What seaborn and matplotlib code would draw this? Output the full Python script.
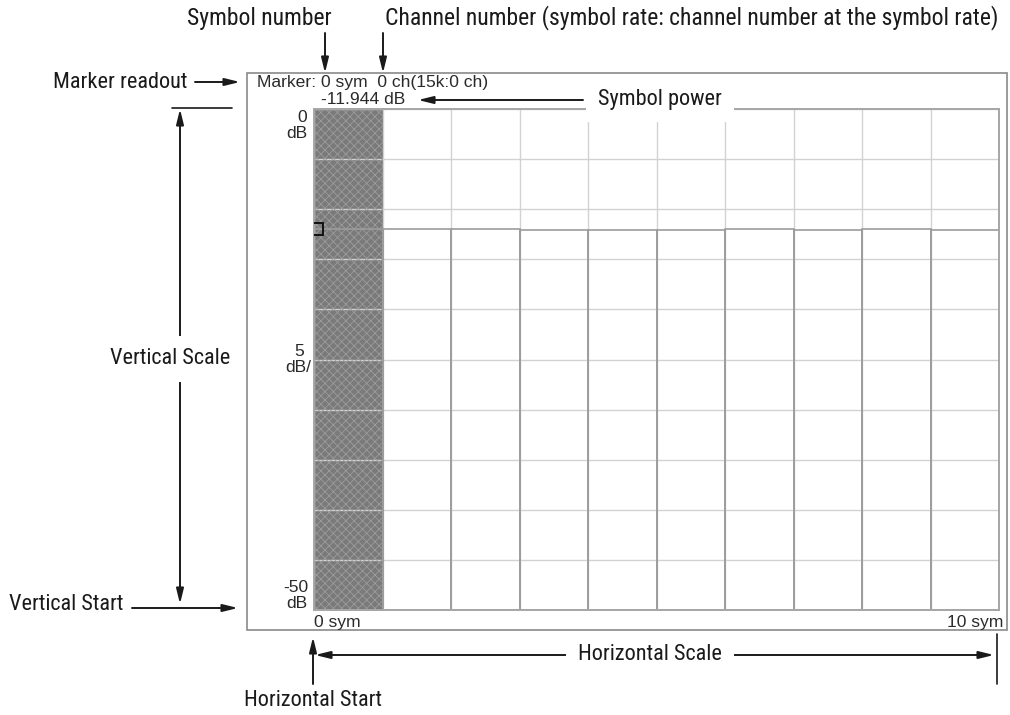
import numpy as np
import pandas as pd
import matplotlib
matplotlib.use("Agg")
import matplotlib.pyplot as plt
from matplotlib import font_manager as fm
from matplotlib.patches import Rectangle, FancyArrowPatch
from matplotlib.lines import Line2D
import seaborn as sns

# Symbol power per symbol (dB), 10 symbols displayed
symbols = [0, 1, 2, 3, 4, 5, 6, 7, 8, 9]
power_db = [-11.944, -11.95, -11.95, -12.12, -12.05, -12.05, -11.95, -12.05, -11.95, -12.05]
floor_db = -50
top_db = 0
scale_db = 5
marker_symbol = 0
x_tick_labels = ["0 sym", "10 sym"]

sns.set_theme(style="white")
plt.rcParams["font.family"] = ["DejaVu Sans"]
plt.rcParams["hatch.linewidth"] = 0.6
plt.rcParams["hatch.color"] = "#a4a4a4"


def pick_condensed():
    """Find a narrow sans font for the callout labels."""
    prefs = ["Liberation Sans Narrow", "Roboto Condensed", "Open Sans Condensed",
             "DejaVu Sans Condensed"]
    entries = fm.fontManager.ttflist
    for name in prefs:
        for f in entries:
            if f.name == name and f.weight in (400, "normal", "regular") and f.style == "normal":
                return f.fname, 1.0
    for f in entries:
        if f.name == "DejaVu Sans" and f.stretch == "condensed" and f.style == "normal" \
                and f.weight in (400, "normal"):
            return f.fname, 0.94
    for f in entries:
        if "Condensed" in f.fname and "Bold" not in f.fname and "Oblique" not in f.fname \
                and "Italic" not in f.fname:
            return f.fname, 0.94
    return None, 0.87


cond_file, size_factor = pick_condensed()


def callout_font(size):
    if cond_file:
        return fm.FontProperties(fname=cond_file, size=size * size_factor)
    return fm.FontProperties(family="Liberation Sans", size=size * size_factor)


W, H = 1010, 715
fig = plt.figure(figsize=(W / 100, H / 100), dpi=100)
fig.patch.set_facecolor("white")


def fx(x):
    return x / W


def fy(y):
    return 1 - y / H


ax = fig.add_axes([fx(314), fy(610), fx(999) - fx(314), fy(109) - fy(610)])
ax.set_facecolor("white")

df = pd.DataFrame({"symbol": symbols, "power": power_db})
df["height"] = df["power"] - floor_db

# Highlighted column under the marker
ax.axvspan(marker_symbol - 0.5, marker_symbol + 0.5, facecolor="#7a7a7a",
           edgecolor="none", zorder=0.5)
ax.axvspan(marker_symbol - 0.5, marker_symbol + 0.5, facecolor="none",
           edgecolor="#9c9c9c", linewidth=0, hatch="xxxx", zorder=0.6)

sns.barplot(data=df, x="symbol", y="height", bottom=floor_db, width=1.0,
            fill=False, color="#9c9c9c", linewidth=1.2, errorbar=None,
            ax=ax, zorder=3)
for p in ax.containers[0]:
    p.set_edgecolor("#9c9c9c")
    p.set_facecolor("none")

ax.set_xlim(-0.5, len(symbols) - 0.5)
ax.set_ylim(floor_db, top_db)
ax.set_xticks(np.arange(-0.5, len(symbols), 1.0))
ax.set_yticks(np.arange(floor_db, top_db + 0.1, scale_db))
ax.set_xticklabels([])
ax.set_yticklabels([])
ax.tick_params(length=0)
ax.set_xlabel("")
ax.set_ylabel("")
ax.grid(True, color="#d2d2d2", linewidth=1.0)
for gl in ax.get_xgridlines() + ax.get_ygridlines():
    gl.set_zorder(1)
for s in ax.spines.values():
    s.set_color("#a6a6a6")
    s.set_linewidth(1.4)
    s.set_zorder(4)

# Marker at the selected symbol
ax.plot([marker_symbol - 0.45], [power_db[marker_symbol]], marker="s",
        markersize=8, markerfacecolor="none", markeredgecolor="#111111",
        markeredgewidth=1.4, linestyle="none", zorder=5, clip_on=True)

# Instrument screen frame
fig.add_artist(Rectangle((fx(247), fy(630)), fx(1007) - fx(247), fy(73) - fy(630),
                         transform=fig.transFigure, fill=False,
                         edgecolor="#8a8a8a", linewidth=1.2, zorder=1))

screen = dict(family=["Liberation Sans", "DejaVu Sans"], fontsize=12.6, color="#2a2a2a")
fig.text(fx(257), fy(83), "Marker: 0 sym  0 ch(15k:0 ch)", ha="left", va="center", **screen)
fig.text(fx(321), fy(100), f"{power_db[marker_symbol]:.3f} dB", ha="left", va="center", **screen)
fig.text(fx(307), fy(118), f"{top_db}", ha="right", va="center", **screen)
fig.text(fx(307), fy(134), "dB", ha="right", va="center", **screen)
fig.text(fx(304), fy(352), f"{scale_db}", ha="right", va="center", **screen)
fig.text(fx(311), fy(367), "dB/", ha="right", va="center", **screen)
fig.text(fx(308), fy(587), f"{floor_db}", ha="right", va="center", **screen)
fig.text(fx(307), fy(603), "dB", ha="right", va="center", **screen)
fig.text(fx(314), fy(622), x_tick_labels[0], ha="left", va="center", **screen)
fig.text(fx(1003), fy(622), x_tick_labels[1], ha="right", va="center", **screen)

# Callout labels
top_callout = dict(fontproperties=callout_font(17), color="#1a1a1a", zorder=6)
callout = dict(fontproperties=callout_font(16), color="#1a1a1a", zorder=6)
arrow = dict(arrowstyle="-|>,head_length=0.9,head_width=0.22", color="#1a1a1a",
             lw=1.4, shrinkA=0, shrinkB=0)
darrow = dict(arrowstyle="<|-|>,head_length=0.9,head_width=0.22", color="#1a1a1a",
              lw=1.4, shrinkA=0, shrinkB=0)
whitebox = dict(boxstyle="square,pad=0.55", fc="white", ec="none")


def arr(x0, y0, x1, y1, props=arrow):
    fig.add_artist(FancyArrowPatch(
        (fx(x0), fy(y0)), (fx(x1), fy(y1)), transform=fig.transFigure,
        zorder=5, mutation_scale=10, **props))


fig.text(fx(259), fy(18), "Symbol number", ha="center", va="center", **top_callout)
arr(325, 33, 325, 73)
fig.text(fx(385), fy(18), "Channel number (symbol rate: channel number at the symbol rate)",
         ha="left", va="center", **top_callout)
arr(383, 33, 383, 73)

fig.text(fx(187), fy(82), "Marker readout", ha="right", va="center", **callout)
arr(195, 82, 240, 82)

arr(583, 100, 418, 100)
fig.text(fx(598), fy(99), "Symbol power", ha="left", va="center", bbox=whitebox, **callout)

fig.add_artist(Line2D([fx(172), fx(232)], [fy(108), fy(108)], transform=fig.transFigure,
                      color="#1a1a1a", lw=1.2))
arr(180, 109, 180, 604, darrow)
fig.text(fx(170), fy(359), "Vertical Scale", ha="center", va="center", bbox=whitebox, **callout)

fig.text(fx(9), fy(605), "Vertical Start", ha="left", va="center", **callout)
arr(132, 608, 238, 608)

arr(315, 655, 994, 655, darrow)
fig.add_artist(Line2D([fx(997), fx(997)], [fy(634), fy(684)], transform=fig.transFigure,
                      color="#1a1a1a", lw=1.2))
fig.text(fx(650), fy(655), "Horizontal Scale", ha="center", va="center", bbox=whitebox, **callout)

arr(313, 684, 313, 637)
fig.text(fx(313), fy(700), "Horizontal Start", ha="center", va="center", **callout)

fig.savefig("out.png", dpi=100, facecolor="white")
